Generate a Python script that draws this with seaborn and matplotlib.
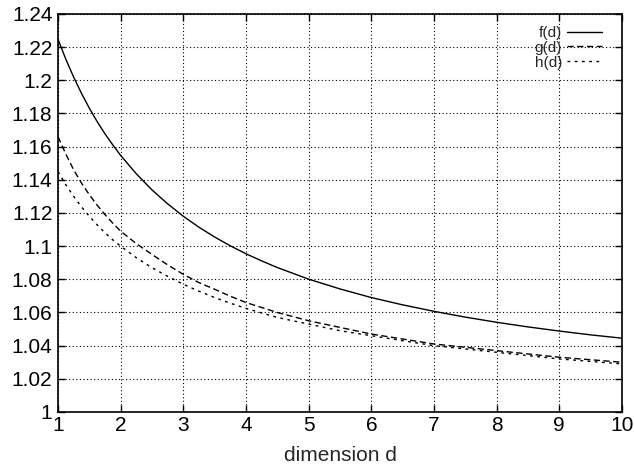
import matplotlib
matplotlib.use("Agg")
import matplotlib.pyplot as plt
import seaborn as sns
import pandas as pd
from matplotlib.ticker import FuncFormatter

d_vals = [1, 1.125, 1.25, 1.375, 1.5, 1.625, 1.75, 1.875, 2, 2.25, 2.5, 2.75, 3,
          3.25, 3.5, 3.75, 4, 4.25, 4.5, 5, 5.5, 6, 6.5, 7, 7.5, 8, 8.5, 9, 9.5, 10]
f_vals = [1.2247, 1.2127, 1.2019, 1.1921, 1.1832, 1.1751, 1.1677, 1.1610, 1.1547,
          1.1436, 1.1339, 1.1255, 1.1180, 1.1114, 1.1055, 1.1002, 1.0954, 1.0911,
          1.0871, 1.0801, 1.0742, 1.0690, 1.0646, 1.0607, 1.0572, 1.0541, 1.0513,
          1.0488, 1.0465, 1.0445]
g_vals = [1.166, 1.1555, 1.146, 1.138, 1.131, 1.1247, 1.119, 1.1138, 1.109,
          1.1015, 1.095, 1.0887, 1.083, 1.078, 1.074, 1.0698, 1.066, 1.063,
          1.060, 1.055, 1.051, 1.047, 1.044, 1.041, 1.039, 1.037, 1.035,
          1.033, 1.0315, 1.030]
h_vals = [1.145, 1.137, 1.130, 1.1237, 1.118, 1.1128, 1.108, 1.1038, 1.100,
          1.093, 1.087, 1.0818, 1.077, 1.0728, 1.069, 1.0656, 1.0625, 1.0597,
          1.057, 1.053, 1.049, 1.046, 1.043, 1.040, 1.038, 1.036, 1.034,
          1.032, 1.0305, 1.029]
labels = ["f(d)", "g(d)", "h(d)"]
x_ticks = [1, 2, 3, 4, 5, 6, 7, 8, 9, 10]
y_ticks = [1, 1.02, 1.04, 1.06, 1.08, 1.1, 1.12, 1.14, 1.16, 1.18, 1.2, 1.22, 1.24]

sns.set_style("white")
plt.rcParams['font.family'] = ['Liberation Sans', 'DejaVu Sans']

n = len(d_vals)
df = pd.DataFrame({
    "d": d_vals * 3,
    "val": f_vals + g_vals + h_vals,
    "series": [labels[0]] * n + [labels[1]] * n + [labels[2]] * n,
})

fig = plt.figure(figsize=(6.34, 4.68), dpi=100)
ax = fig.add_axes([0.0915, 0.1197, 0.8895, 0.8504])

dashes = {labels[0]: "", labels[1]: (4.5, 2.5), labels[2]: (2, 3.2)}
sns.lineplot(data=df, x="d", y="val", style="series", dashes=dashes,
             color="black", linewidth=1.0, ax=ax, legend=True)

ax.set_xlim(1, 10)
ax.set_ylim(1, 1.24)
ax.set_xticks(x_ticks)
ax.set_yticks(y_ticks)
ax.yaxis.set_major_formatter(FuncFormatter(lambda v, p: ("%.2f" % v).rstrip("0").rstrip(".")))
ax.set_xlabel("dimension d", fontsize=15, labelpad=8)
ax.set_ylabel("")
ax.grid(True, color="black", linestyle=(0, (1, 2.2)), linewidth=0.8)
ax.tick_params(direction="in", length=5, width=1, labelsize=15, colors="black",
               top=True, right=True, bottom=True, left=True, pad=3)
ax.tick_params(axis="y", pad=4)
for s in ax.spines.values():
    s.set_visible(True)
    s.set_color("black")
    s.set_linewidth(1.2)

leg = ax.legend(loc="upper right", frameon=False, markerfirst=False, fontsize=11,
                handlelength=2.3, handletextpad=0.3, labelspacing=0.05,
                borderaxespad=0.0, bbox_to_anchor=(0.975, 0.985))
for t in leg.get_texts():
    t.set_ha("right")

fig.savefig("out.png", dpi=100)
